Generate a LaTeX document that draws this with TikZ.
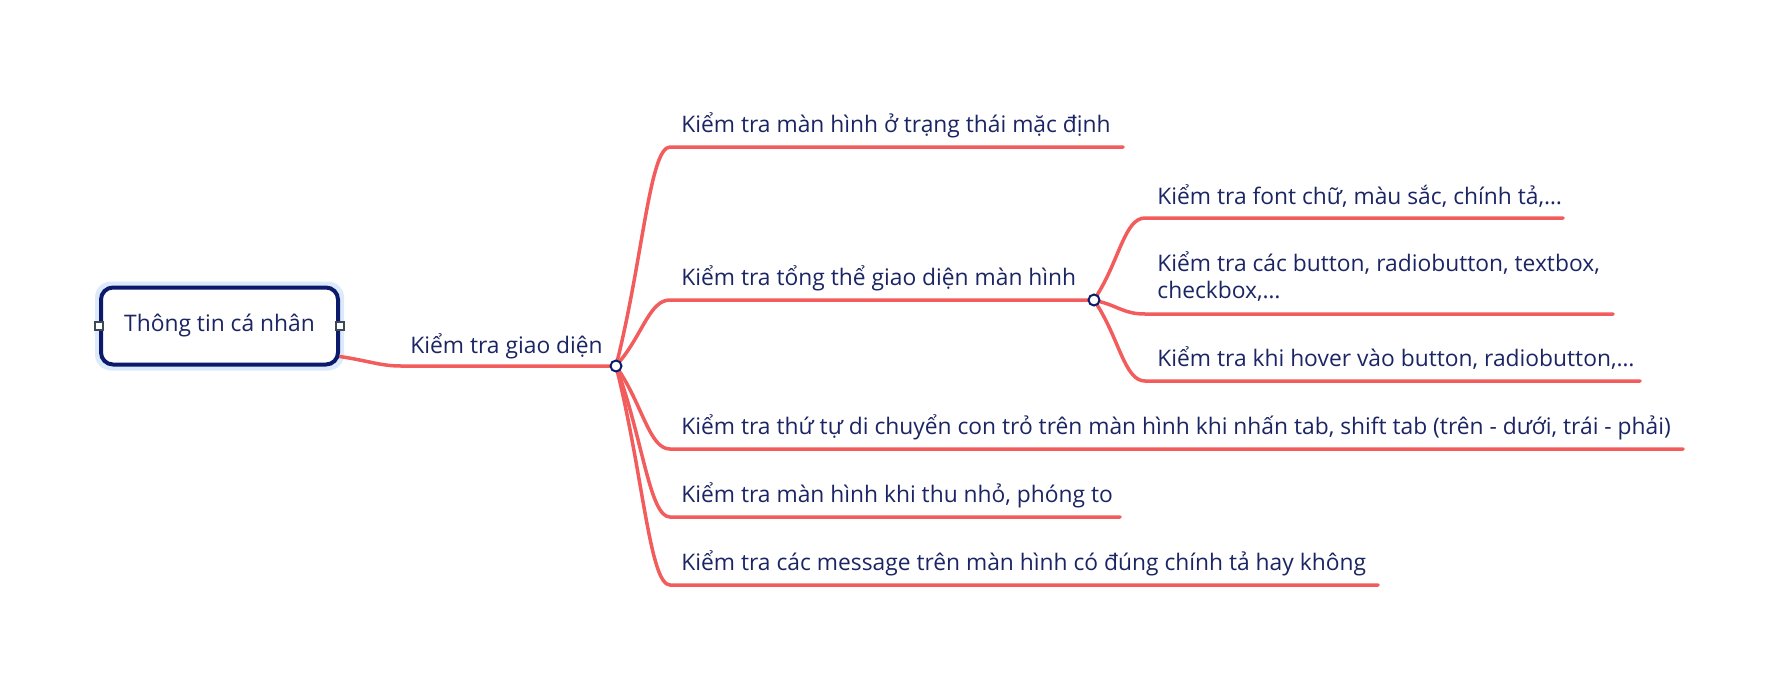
\documentclass[tikz,border=0pt]{standalone}
\usepackage{fontspec}
\setmainfont{Open Sans}
\usetikzlibrary{calc,backgrounds}
\definecolor{navy}{HTML}{0B1A6B}
\definecolor{inkblue}{HTML}{1B2563}
\definecolor{coral}{HTML}{F25C5C}
\definecolor{glow}{HTML}{DCEAFB}
\definecolor{handle}{HTML}{3C4A52}
\tikzset{
  label/.style={font=\fontsize{11.4}{13.5}\selectfont, text=inkblue, inner sep=0pt},
  topic/.style={label, anchor=base west},
  rootbox/.style={label, draw=navy, line width=2pt, rounded corners=6pt, fill=white,
    minimum width=118.5pt, minimum height=38.5pt},
  handlebox/.style={draw=handle, fill=white, line width=0.6pt, minimum size=4pt, inner sep=0pt},
  joint/.style={circle, draw=navy, fill=white, line width=1pt, minimum size=5.5pt, inner sep=0pt},
  branch/.style={draw=coral, line width=1.75pt, line cap=round}
}
\begin{document}
\begin{tikzpicture}[x=0.5pt,y=-0.5pt]
  \useasboundingbox (0,0) rectangle (1792,696);
  % central topic
  \node[rootbox] (root) at (219.5,326) {Thông tin cá nhân};
  \begin{scope}[on background layer]
    \fill[glow, rounded corners=8pt]
      ($(root.south west)+(-4,4)$) rectangle ($(root.north east)+(4,-4)$);
  \end{scope}
  \node[handlebox] (hw) at (root.west) {};
  \node[handlebox] (he) at (root.east) {};

  % joints and ends of the lines
  \coordinate (k1) at (401,366);
  \node[joint] (j1) at (616,366) {};
  \coordinate (t1) at (670,147);  \coordinate (e1) at (1123,147);
  \coordinate (t2) at (670,300);
  \node[joint] (j2) at (1094,300) {};
  \coordinate (t3) at (670,449);  \coordinate (e3) at (1683,449);
  \coordinate (t4) at (670,517);  \coordinate (e4) at (1120,517);
  \coordinate (t5) at (670,585);  \coordinate (e5) at (1378,585);
  \coordinate (s1) at (1145,218); \coordinate (f1) at (1563,218);
  \coordinate (s2) at (1145,314); \coordinate (f2) at (1613,314);
  \coordinate (s3) at (1145,381); \coordinate (f3) at (1640,381);

  % texts
  \node[topic] (k1t) at (410,353) {Kiểm tra giao diện};
  \node[topic] (l1) at (681,132) {Kiểm tra màn hình ở trạng thái mặc định};
  \node[topic] (l2) at (681,285) {Kiểm tra tổng thể giao diện màn hình};
  \node[topic] (l3) at (681,434) {Kiểm tra thứ tự di chuyển con trỏ trên màn hình khi nhấn tab, shift tab (trên - dưới, trái - phải)};
  \node[topic] (l4) at (681,502) {Kiểm tra màn hình khi thu nhỏ, phóng to};
  \node[topic] (l5) at (681,570) {Kiểm tra các message trên màn hình có đúng chính tả hay không};
  \node[topic] (m1) at (1157,204) {Kiểm tra font chữ, màu sắc, chính tả,…};
  \node[topic, align=left] (m2) at (1157,298) {Kiểm tra các button, radiobutton, textbox,\\checkbox,…};
  \node[topic] (m3) at (1157,366) {Kiểm tra khi hover vào button, radiobutton,…};

  \begin{scope}[on background layer]
    \draw[branch] ([yshift=5pt]root.south east)
      .. controls ($([yshift=5pt]root.south east)!0.5!(k1)$) and ($(k1)+(-20,0)$) .. (k1) -- (j1);
    \draw[branch] (j1) .. controls ($(j1)!0.5!(t1)$) and ($(t1)+(-20,0)$) .. (t1) -- (e1);
    \draw[branch] (j1) .. controls ($(j1)!0.5!(t2)$) and ($(t2)+(-20,0)$) .. (t2) -- (j2);
    \draw[branch] (j1) .. controls ($(j1)!0.5!(t3)$) and ($(t3)+(-20,0)$) .. (t3) -- (e3);
    \draw[branch] (j1) .. controls ($(j1)!0.5!(t4)$) and ($(t4)+(-20,0)$) .. (t4) -- (e4);
    \draw[branch] (j1) .. controls ($(j1)!0.5!(t5)$) and ($(t5)+(-20,0)$) .. (t5) -- (e5);
    \draw[branch] (j2) .. controls ($(j2)!0.5!(s1)$) and ($(s1)+(-20,0)$) .. (s1) -- (f1);
    \draw[branch] (j2) .. controls ($(j2)!0.5!(s2)$) and ($(s2)+(-20,0)$) .. (s2) -- (f2);
    \draw[branch] (j2) .. controls ($(j2)!0.5!(s3)$) and ($(s3)+(-20,0)$) .. (s3) -- (f3);
  \end{scope}
\end{tikzpicture}
\end{document}
